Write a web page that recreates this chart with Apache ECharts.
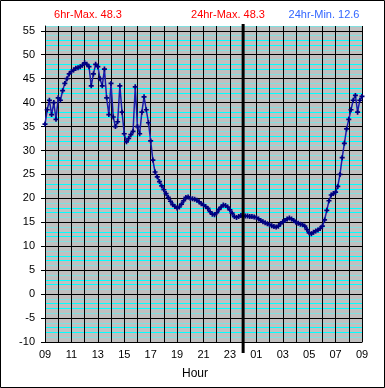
<!DOCTYPE html>
<html>
<head>
<meta charset="utf-8">
<script src="https://cdn.jsdelivr.net/npm/echarts@6/dist/echarts.min.js"></script>
<style>
html,body{margin:0;padding:0;background:#fff;}
#c{width:385px;height:388px;}
</style>
</head>
<body>
<div id="c"></div>
<script>
// ---- data ----
const hourLabels = ['09','11','13','15','17','19','21','23','01','03','05','07','09'];
const hourLabelMinutes = [0,120,240,360,480,600,720,840,960,1080,1200,1320,1440];
const yTicks = [-10,-5,0,5,10,15,20,25,30,35,40,45,50,55];
const titleTexts = ['6hr-Max. 48.3','24hr-Max. 48.3','24hr-Min. 12.6'];
const axisName = 'Hour';
const midnightMinute = 900;
const stepMinutes = 10;
const temps = [
 35.5,38.5,40.5,37.5,40.0,36.5,41.0,40.5,42.5,44.0,45.0,46.0,
 46.5,46.8,47.2,47.3,47.5,47.8,48.3,48.0,47.5,43.5,46.0,48.0,
 47.5,45.0,43.5,47.0,41.0,37.5,44.0,37.0,35.0,36.0,43.5,38.0,
 33.5,31.8,32.5,33.3,34.0,43.3,35.0,33.5,38.0,41.2,38.5,35.8,
 32.0,28.0,25.5,24.5,23.5,22.6,21.8,21.0,20.2,19.4,18.7,18.3,
 18.0,18.2,18.8,19.5,20.2,20.3,20.0,19.9,19.8,19.6,19.3,18.9,
 18.6,18.3,17.9,17.2,16.7,16.6,17.0,17.7,18.2,18.6,18.5,18.2,
 17.6,16.9,16.2,16.0,16.2,16.4,16.4,16.3,16.3,16.2,16.2,16.1,
 16.0,15.7,15.4,15.1,14.9,14.7,14.5,14.3,14.1,14.0,14.2,14.7,
 15.1,15.4,15.7,15.9,15.7,15.4,15.0,14.8,14.6,14.5,14.2,13.5,
 12.8,12.6,12.9,13.2,13.4,13.7,14.2,15.5,17.5,19.5,20.7,21.0,
 21.3,22.5,25.0,28.5,31.5,34.5,36.5,38.5,40.5,41.5,38.0,40.5,
 41.3
];

const seriesData = temps.map((v, i) => [i * stepMinutes, v]);

// split-line colours cycle per unit: major black, minor cyan (pale/bright like the original)
const yLineColors = ['#000000', '#80e0e0', '#00ffff', '#00ffff', '#80e0e0'];

const chart = echarts.init(document.getElementById('c'), null, {renderer: 'canvas'});
const FONT = 'Liberation Sans, Arial, sans-serif';

const option = {
  animation: false,
  backgroundColor: '#ffffff',
  grid: {
    left: 45, right: 23, top: 26, bottom: 46,
    show: true, backgroundColor: '#c0c0c0', borderWidth: 0
  },
  xAxis: [{
    // grid lines every hour
    type: 'value', min: 0, max: 1440, interval: 60, z: 1,
    axisLine: {show: true, onZero: false, lineStyle: {color: '#000', width: 1}},
    axisTick: {show: false},
    axisLabel: {show: false},
    splitLine: {show: true, lineStyle: {color: '#000', width: 1}}
  }, {
    // ticks and labels every two hours
    type: 'value', min: 0, max: 1440, position: 'bottom', z: 1,
    axisLine: {show: false},
    axisTick: {show: true, length: 4, customValues: hourLabelMinutes, lineStyle: {color: '#000'}},
    axisLabel: {
      customValues: hourLabelMinutes, margin: 7, color: '#000',
      fontFamily: FONT, fontSize: 11,
      formatter: v => hourLabels[hourLabelMinutes.indexOf(Math.round(v))] || ''
    },
    splitLine: {show: false}
  }],
  yAxis: [{
    type: 'value', min: -10, max: 56, interval: 1,
    axisLine: {show: true, onZero: false, lineStyle: {color: '#000', width: 1}},
    axisTick: {show: false},
    axisLabel: {show: false},
    splitLine: {show: true, lineStyle: {color: yLineColors, width: 1}}
  }, {
    type: 'value', min: -10, max: 56, position: 'left',
    axisLine: {show: false},
    axisTick: {show: true, length: 4, customValues: yTicks, lineStyle: {color: '#000'}},
    axisLabel: {
      customValues: yTicks, margin: 10, color: '#000',
      fontFamily: FONT, fontSize: 11
    },
    splitLine: {show: false}
  }],
  series: [{
    type: 'line',
    xAxisIndex: 0, yAxisIndex: 0,
    data: seriesData,
    showSymbol: true,
    showAllSymbol: true,
    symbol: 'path://M2,0L4,0L4,6L2,6ZM0,2L6,2L6,4L0,4Z',
    symbolSize: 5,
    itemStyle: {color: '#000080'},
    lineStyle: {color: '#1c1ca8', width: 1.5},
    z: 3
  }]
};
chart.setOption(option);

const mx = chart.convertToPixel({xAxisIndex: 0}, midnightMinute);
chart.setOption({
  graphic: [
    {type: 'rect', shape: {x: 0.5, y: 0.5, width: 384, height: 387},
     style: {fill: 'none', stroke: '#000', lineWidth: 1}, z: 100, silent: true},
    {type: 'line', shape: {x1: mx, y1: 24, x2: mx, y2: 353},
     style: {stroke: '#000', lineWidth: 3}, z: 100, silent: true},
    {type: 'text', x: 88, y: 15, style: {text: titleTexts[0], fill: '#ff0000', font: '11px ' + FONT, textAlign: 'center', textVerticalAlign: 'middle'}, z: 100},
    {type: 'text', x: 228, y: 15, style: {text: titleTexts[1], fill: '#ff0000', font: '11px ' + FONT, textAlign: 'center', textVerticalAlign: 'middle'}, z: 100},
    {type: 'text', x: 324, y: 15, style: {text: titleTexts[2], fill: '#3366ff', font: '11px ' + FONT, textAlign: 'center', textVerticalAlign: 'middle'}, z: 100},
    {type: 'text', x: 195, y: 374, style: {text: axisName, fill: '#000', font: '12px ' + FONT, textAlign: 'center', textVerticalAlign: 'middle'}, z: 100}
  ]
});
</script>
</body>
</html>
